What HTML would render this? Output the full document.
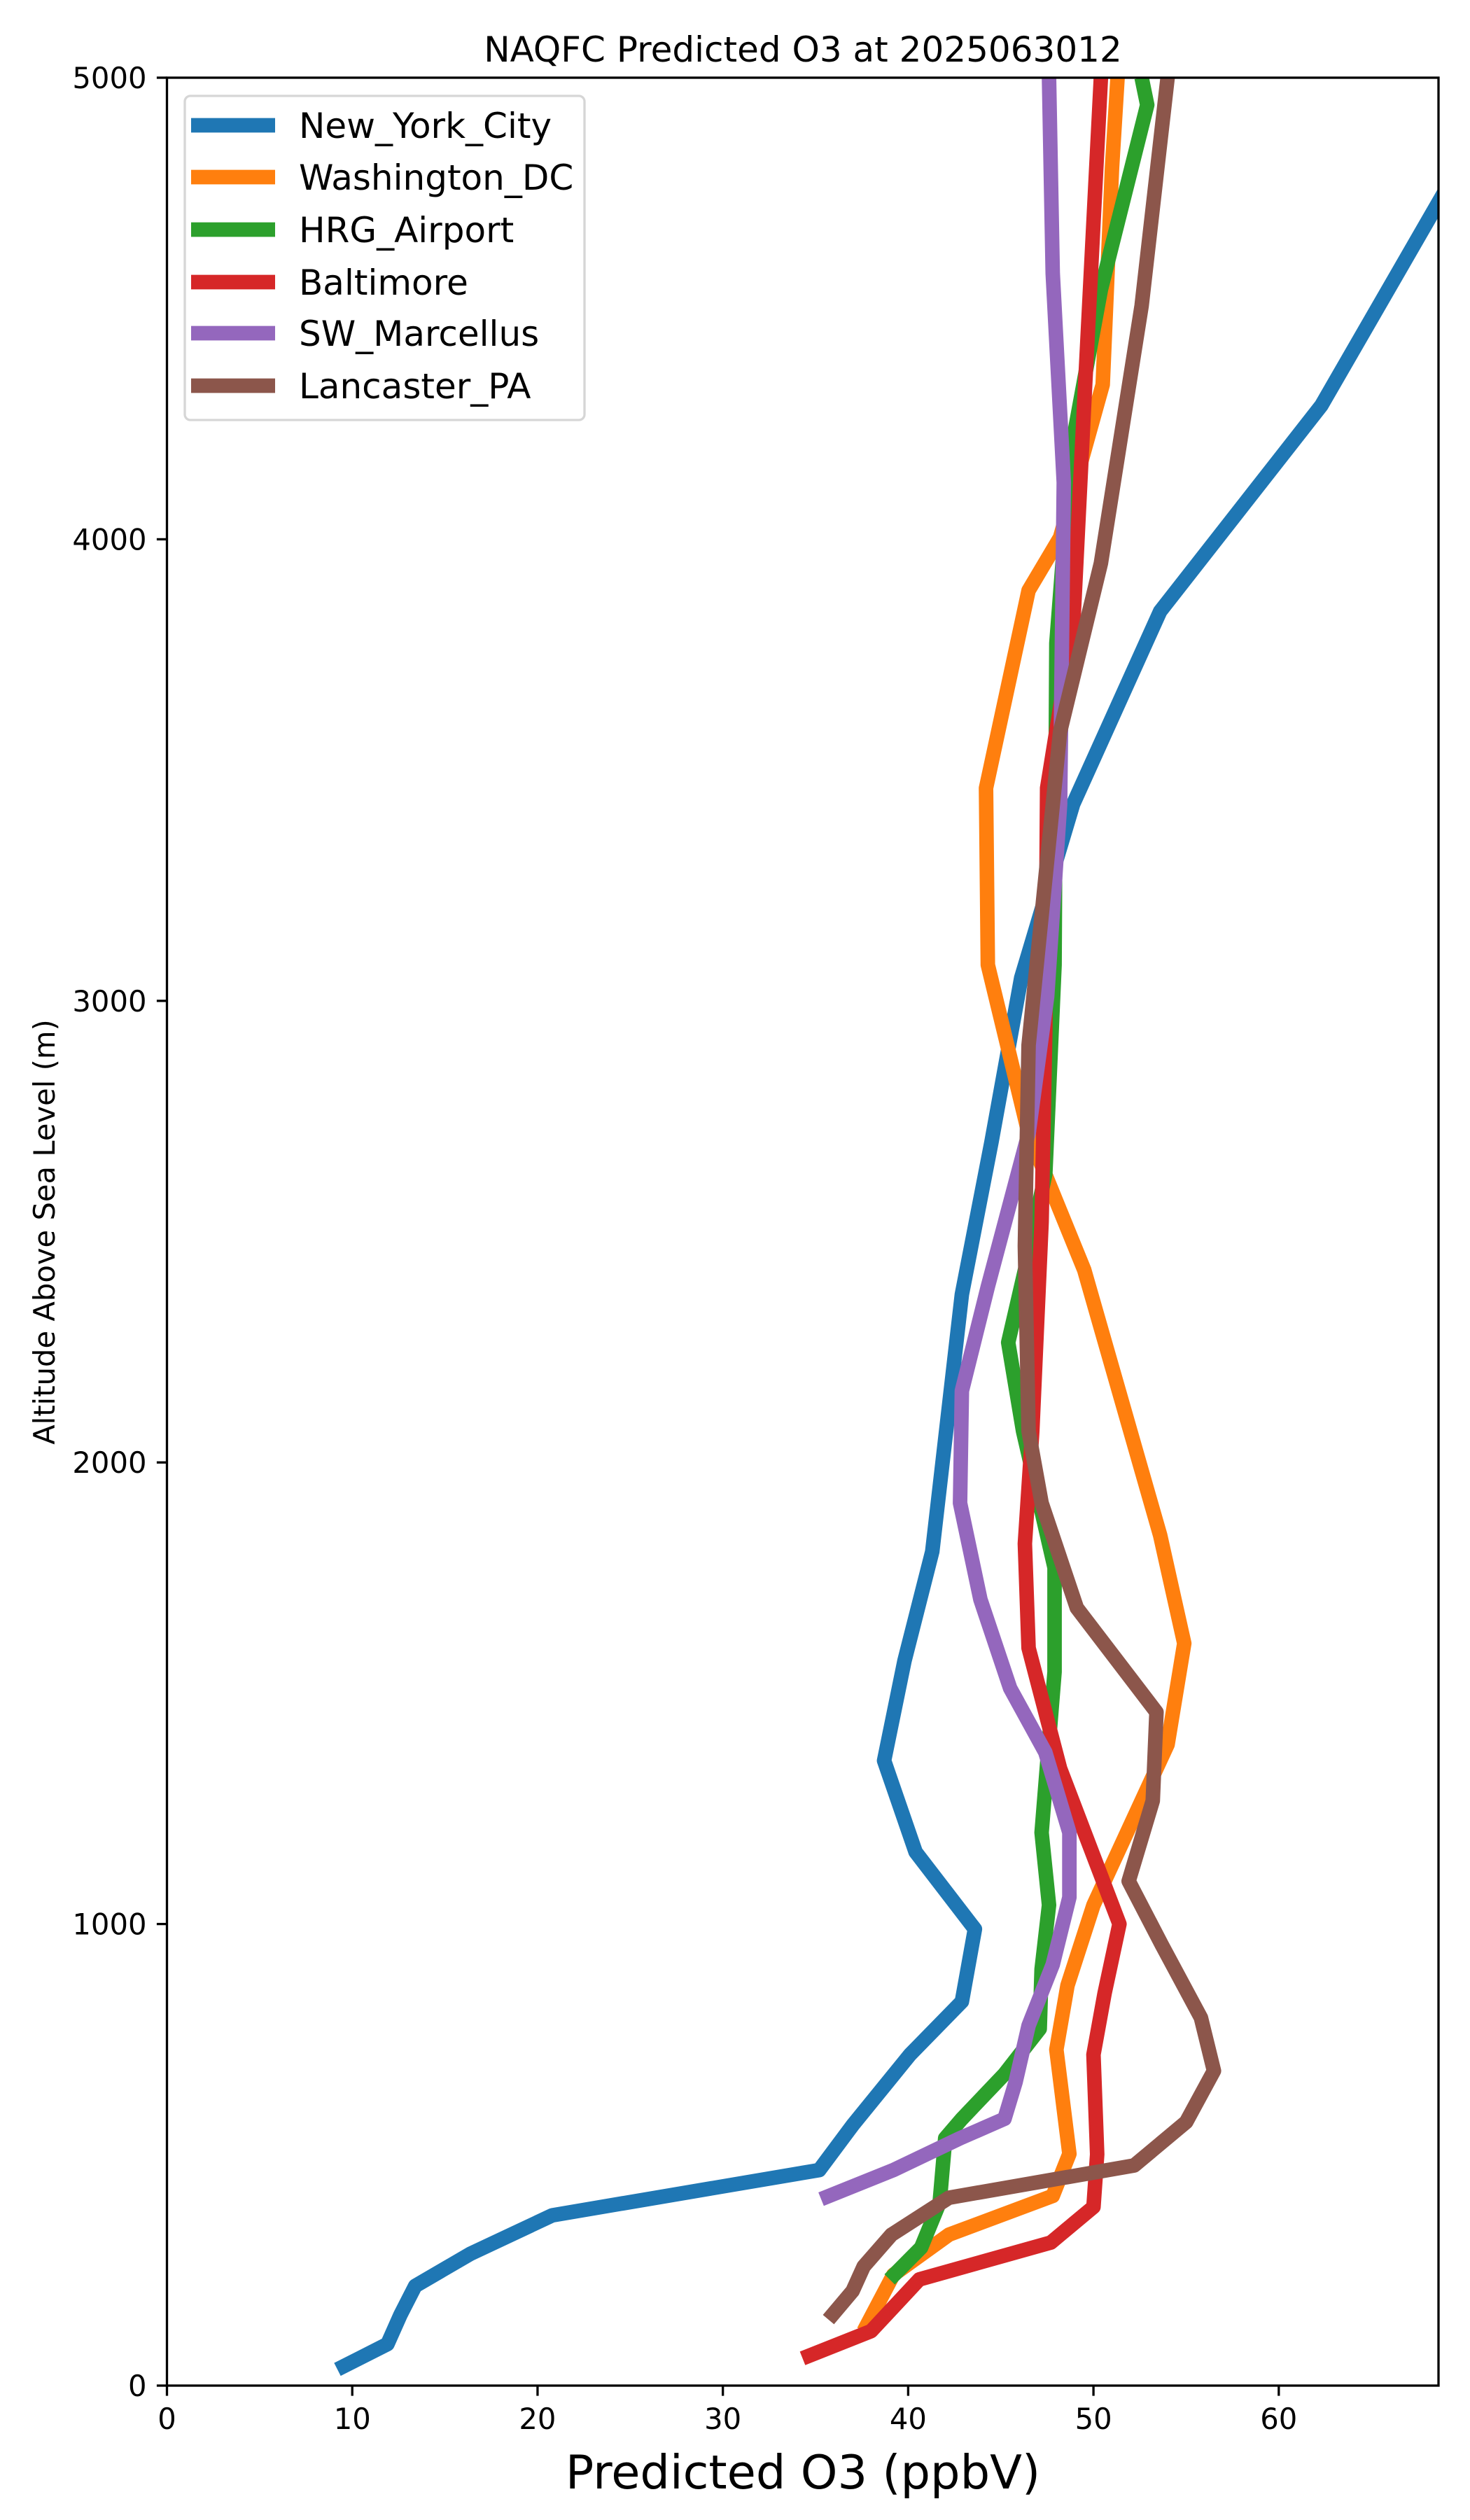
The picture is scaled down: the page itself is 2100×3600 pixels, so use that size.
<!DOCTYPE html>
<html><head><meta charset="utf-8"><style>
html,body{margin:0;padding:0;background:#fff}
svg{display:block}
text{font-family:"DejaVu Sans","Liberation Sans",sans-serif;fill:#000}
</style></head><body>
<svg id="chart" width="2100" height="3600" viewBox="0 0 2100 3600" xmlns="http://www.w3.org/2000/svg">
<defs><clipPath id="plotclip"><rect x="238.5" y="111" width="1816.5" height="3297"/></clipPath></defs>
<rect x="0" y="0" width="2100" height="3600" fill="#fff"/>
<text x="1147" y="88" font-size="50" text-anchor="middle">NAQFC Predicted O3 at 2025063012</text>
<g id="series" clip-path="url(#plotclip)"></g>
<g id="axes"></g>
<text x="1147" y="3555" font-size="67" text-anchor="middle">Predicted O3 (ppbV)</text>
<text x="0" y="0" font-size="41.7" text-anchor="middle" transform="translate(78,1760) rotate(-90)">Altitude Above Sea Level (m)</text>
<g id="legend"></g>
</svg>
<script>
const seriesNames = ["New_York_City","Washington_DC","HRG_Airport","Baltimore","SW_Marcellus","Lancaster_PA"];
const seriesColors = ["#1f77b4","#ff7f0e","#2ca02c","#d62728","#9467bd","#8c564b"];
const nycO3 = [9.2,11.9,12.6,13.4,16.4,20.8,35.2,37.0,40.1,42.9,43.6,40.4,38.7,39.8,41.3,42.9,44.5,46.1,48.9,53.6,62.3,72.5];
const nycAlt = [35,90,153,216,286,369,467,564,717,832,989,1156,1354,1570,1807,2364,2695,3050,3426,3844,4290,5000];
const dcO3 = [37.6,39.2,42.2,47.8,48.7,48.0,48.6,50.0,54.0,54.9,53.6,49.5,46.5,44.3,44.2,46.5,48.2,50.5,51.0,51.3];
const dcAlt = [118,240,327,411,502,728,867,1041,1389,1608,1842,2417,2713,3078,3461,3889,4004,4335,4805,5000];
const hrgO3 = [39.0,40.7,41.7,42.0,42.9,45.2,47.1,47.2,47.6,47.2,47.9,47.9,46.2,45.4,46.5,47.4,47.9,48.0,48.8,50.4,52.9,52.6];
const hrgAlt = [230,299,397,536,578,675,773,902,1041,1198,1546,1772,2068,2260,2451,2625,3078,3775,4192,4541,4941,5000];
const balO3 = [34.3,38.0,40.6,47.7,50.0,50.2,50.0,50.6,51.4,48.2,46.5,46.3,46.7,47.2,47.4,47.5,48.9,49.5,50.4];
const balAlt = [59,118,230,310,387,501,717,850,1000,1337,1598,1824,2068,2521,2939,3461,3809,4296,5000];
const swmO3 = [35.3,39.2,42.8,45.2,45.8,46.5,47.8,48.7,48.7,47.4,45.5,43.9,42.8,42.9,44.3,46.5,47.5,48.2,48.4,47.8,47.6];
const swmAlt = [404,467,536,578,658,780,912,1058,1198,1372,1511,1703,1912,2155,2381,2713,3009,3426,4123,4576,5000];
const lanO3 = [35.7,37.0,37.6,39.1,42.2,52.2,55.0,56.5,55.8,53.7,51.9,53.2,53.4,49.1,47.2,46.5,46.3,46.5,48.2,50.4,52.6,54.0];
const lanAlt = [143,205,258,327,407,477,571,682,797,954,1093,1267,1459,1685,1912,2068,2469,2904,3583,3948,4506,5000];
const xTicks = [0,10,20,30,40,50,60];
const yTicks = [0,1000,2000,3000,4000,5000];
const xTickLabels = ["0","10","20","30","40","50","60"];
const yTickLabels = ["0","1000","2000","3000","4000","5000"];

const NS="http://www.w3.org/2000/svg";
const L=238.5,R=2055,T=111,B=3408,XMIN=0,XMAX=68.62,YMIN=0,YMAX=5000;
function sx(v){return L+(v-XMIN)/(XMAX-XMIN)*(R-L);}
function sy(v){return B-(v-YMIN)/(YMAX-YMIN)*(B-T);}
function mk(tag,attrs,parent){const e=document.createElementNS(NS,tag);for(const k in attrs)e.setAttribute(k,attrs[k]);parent.appendChild(e);return e;}

const allX=[nycO3,dcO3,hrgO3,balO3,swmO3,lanO3];
const allY=[nycAlt,dcAlt,hrgAlt,balAlt,swmAlt,lanAlt];
const sg=document.getElementById('series');
for(let i=0;i<seriesNames.length;i++){
  const pts=allX[i].map((v,j)=>sx(v).toFixed(1)+","+sy(allY[i][j]).toFixed(1)).join(" ");
  const pl=mk('polyline',{points:pts,fill:'none',stroke:seriesColors[i],'stroke-width':20.8,'stroke-linejoin':'round','stroke-linecap':'butt'},sg);
  
  
}

const ag=document.getElementById('axes');
const frame=mk('rect',{x:L,y:T,width:R-L,height:B-T,fill:'none',stroke:'#000','stroke-width':3.3},ag);


xTicks.forEach((v,i)=>{
  const x=sx(v);
  const t=mk('line',{x1:x,y1:B,x2:x,y2:B+14.6,stroke:'#000','stroke-width':3.3},ag);
  
  
  const lb=mk('text',{x:x,y:B+62,'font-size':41.7,'text-anchor':'middle'},ag);
  lb.textContent=xTickLabels[i];
  
  
});
yTicks.forEach((v,i)=>{
  const y=sy(v);
  const t=mk('line',{x1:L-14.6,y1:y,x2:L,y2:y,stroke:'#000','stroke-width':3.3},ag);
  
  
  const lb=mk('text',{x:L-29,y:y+15,'font-size':41.7,'text-anchor':'end'},ag);
  lb.textContent=yTickLabels[i];
  
  
});

const lg=document.getElementById('legend');
const box=mk('rect',{x:264,y:137,width:571,height:463,rx:8,fill:'#fff','fill-opacity':0.8,stroke:'#d6d6d6','stroke-width':3.3},lg);


const legY=[179,253,328,403,476,551];
seriesNames.forEach((n,i)=>{
  const ln=mk('line',{x1:273,y1:legY[i],x2:393,y2:legY[i],stroke:seriesColors[i],'stroke-width':20.8},lg);
  
  
  const tx=mk('text',{x:427,y:legY[i]+18,'font-size':50},lg);
  tx.textContent=n;
  
  
});
</script>
</body></html>
